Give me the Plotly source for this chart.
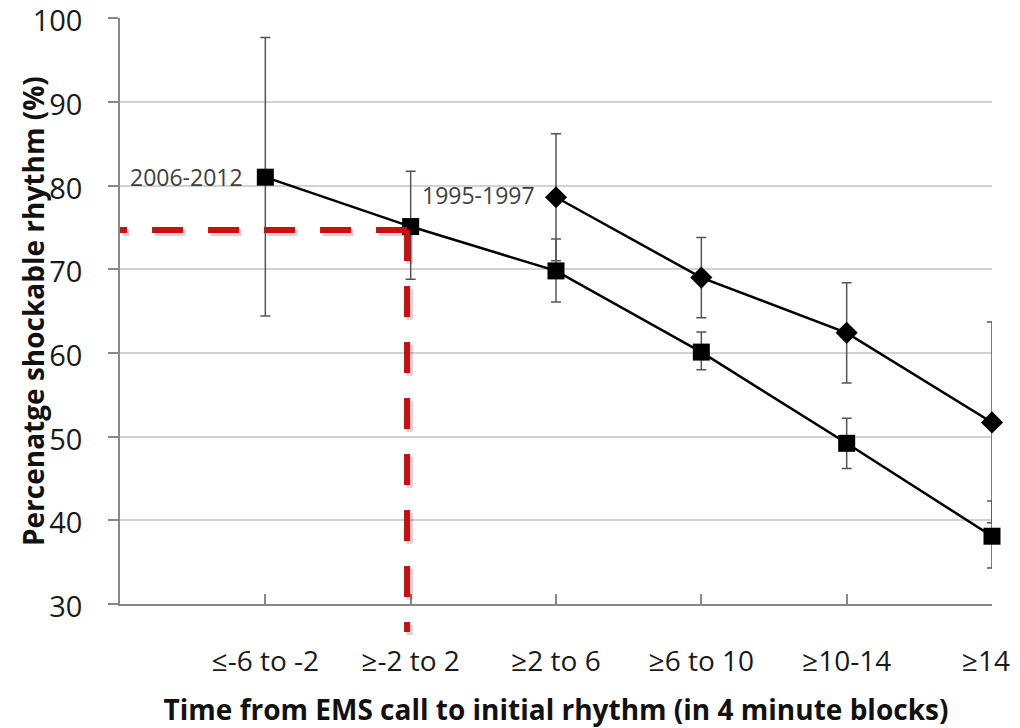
import plotly.graph_objects as go

# ---- data ----
categories = ["≤-6 to -2", "≥-2 to 2", "≥2 to 6", "≥6 to 10", "≥10-14", "≥14"]
cat_pos = [1, 2, 3, 4, 5, 6]

s2006_label = "2006-2012"
s2006_values = [81.0, 75.1, 69.8, 60.1, 49.2, 38.1]
s2006_err_plus = [16.7, 6.6, 3.8, 2.4, 3.0, 4.2]
s2006_err_minus = [16.6, 6.3, 3.7, 2.1, 3.0, 3.8]

s1995_pos = [3, 4, 5, 6]
s1995_label = "1995-1997"
s1995_values = [78.6, 69.0, 62.4, 51.7]
s1995_err = [7.6, 4.8, 6.0, 12.0]

y_ticks = [30, 40, 50, 60, 70, 80, 90, 100]

ref_x = 1.975        # reference point on x (category units)
ref_y = 74.7         # reference percentage
ref_y_bottom = 26.65  # dashed line runs slightly below the axis

y_min, y_max = 30, 100.02
x_min, x_max = 0, 6

FONT = "Open Sans"
RED = "#c81010"
TICK_SIZE = 28

fig = go.Figure()

fig.add_trace(go.Scatter(
    x=cat_pos, y=s2006_values, mode="lines+markers", name=s2006_label,
    line=dict(color="black", width=2.5),
    marker=dict(symbol="square", size=17, color="black"),
    error_y=dict(type="data", symmetric=False, array=s2006_err_plus,
                 arrayminus=s2006_err_minus, color="#555555", thickness=1.5, width=5),
    cliponaxis=False,
))
fig.add_trace(go.Scatter(
    x=s1995_pos, y=s1995_values, mode="lines+markers", name=s1995_label,
    line=dict(color="black", width=2.5),
    marker=dict(symbol="diamond", size=17, color="black"),
    error_y=dict(type="data", array=s1995_err, color="#555555", thickness=1.5, width=5),
    cliponaxis=False,
))

def px(v):
    return (v - x_min) / (x_max - x_min)

def py(v):
    return (v - y_min) / (y_max - y_min)

dash = "31px,25px"
segments = [(ref_x, ref_y, x_min, ref_y), (ref_x, ref_y, ref_x, ref_y_bottom)]
shapes = []
for (x0, y0, x1, y1) in segments:
    shapes.append(dict(type="line", xref="paper", yref="paper",
                       x0=px(x0) + 0.003, y0=py(y0) - 0.005, x1=px(x1) + 0.003, y1=py(y1) - 0.005,
                       line=dict(color="rgba(0,0,0,0.16)", width=7, dash=dash), layer="above"))
for (x0, y0, x1, y1) in segments:
    shapes.append(dict(type="line", xref="paper", yref="paper",
                       x0=px(x0), y0=py(y0), x1=px(x1), y1=py(y1),
                       line=dict(color=RED, width=6, dash=dash), layer="above"))

# last category label sits at the page edge: drawn as an annotation nudged inward
tick_text = categories[:-1] + [""]

annotations = [
    dict(x=1, y=s2006_values[0], xref="x", yref="y", text=s2006_label, showarrow=False,
         xanchor="right", yanchor="middle", xshift=-20, yshift=0,
         font=dict(family=FONT, size=23, color="#404040")),
    dict(x=s1995_pos[0], y=s1995_values[0], xref="x", yref="y", text=s1995_label, showarrow=False,
         xanchor="right", yanchor="middle", xshift=-19, yshift=2,
         font=dict(family=FONT, size=23, color="#404040")),
    dict(x=0, y=0.5, xref="paper", yref="paper", text="<b>Percenatge shockable rhythm (%)</b>",
         showarrow=False, textangle=-90, xanchor="center", yanchor="middle", xshift=-87,
         font=dict(family=FONT, size=28, color="#111111")),
    dict(x=cat_pos[-1], y=0, xref="x", yref="paper", text=categories[-1], showarrow=False,
         xanchor="center", yanchor="middle", xshift=-6, yshift=-56,
         font=dict(family=FONT, size=TICK_SIZE, color="#1a1a1a")),
]

# the page body adds an 8px offset, so the figure is 8px smaller and margins shifted
fig.update_layout(
    width=1012, height=720,
    margin=dict(l=112, r=28, t=10, b=124, autoexpand=False),
    paper_bgcolor="white", plot_bgcolor="white",
    showlegend=False,
    shapes=shapes,
    annotations=annotations,
    font=dict(family=FONT, color="#1a1a1a"),
    xaxis=dict(
        range=[x_min, x_max], tickmode="array", tickvals=cat_pos, ticktext=tick_text,
        showgrid=False, zeroline=False, showline=True, linecolor="#888888", linewidth=1.5,
        ticks="inside", ticklen=10, tickcolor="#888888", tickwidth=1.5, automargin=False,
        tickfont=dict(family=FONT, size=TICK_SIZE, color="#1a1a1a"), ticklabelstandoff=32,
        ticklabeloverflow="allow",
        title=dict(text="<b>Time from EMS call to initial rhythm (in 4 minute blocks)</b>",
                   font=dict(family=FONT, size=28, color="#111111"), standoff=28),
    ),
    yaxis=dict(
        range=[y_min, y_max], tickmode="array", tickvals=y_ticks, automargin=False,
        showgrid=True, gridcolor="#d2d2d2", gridwidth=1.5, zeroline=False,
        showline=True, linecolor="#888888", linewidth=1.5,
        ticks="outside", ticklen=10, tickcolor="#888888", tickwidth=1.5,
        tickfont=dict(family=FONT, size=29, color="#1a1a1a"), ticklabelstandoff=20,
        ticklabelshift=3, ticklabeloverflow="allow",
    ),
)

fig.write_html("out.html")
